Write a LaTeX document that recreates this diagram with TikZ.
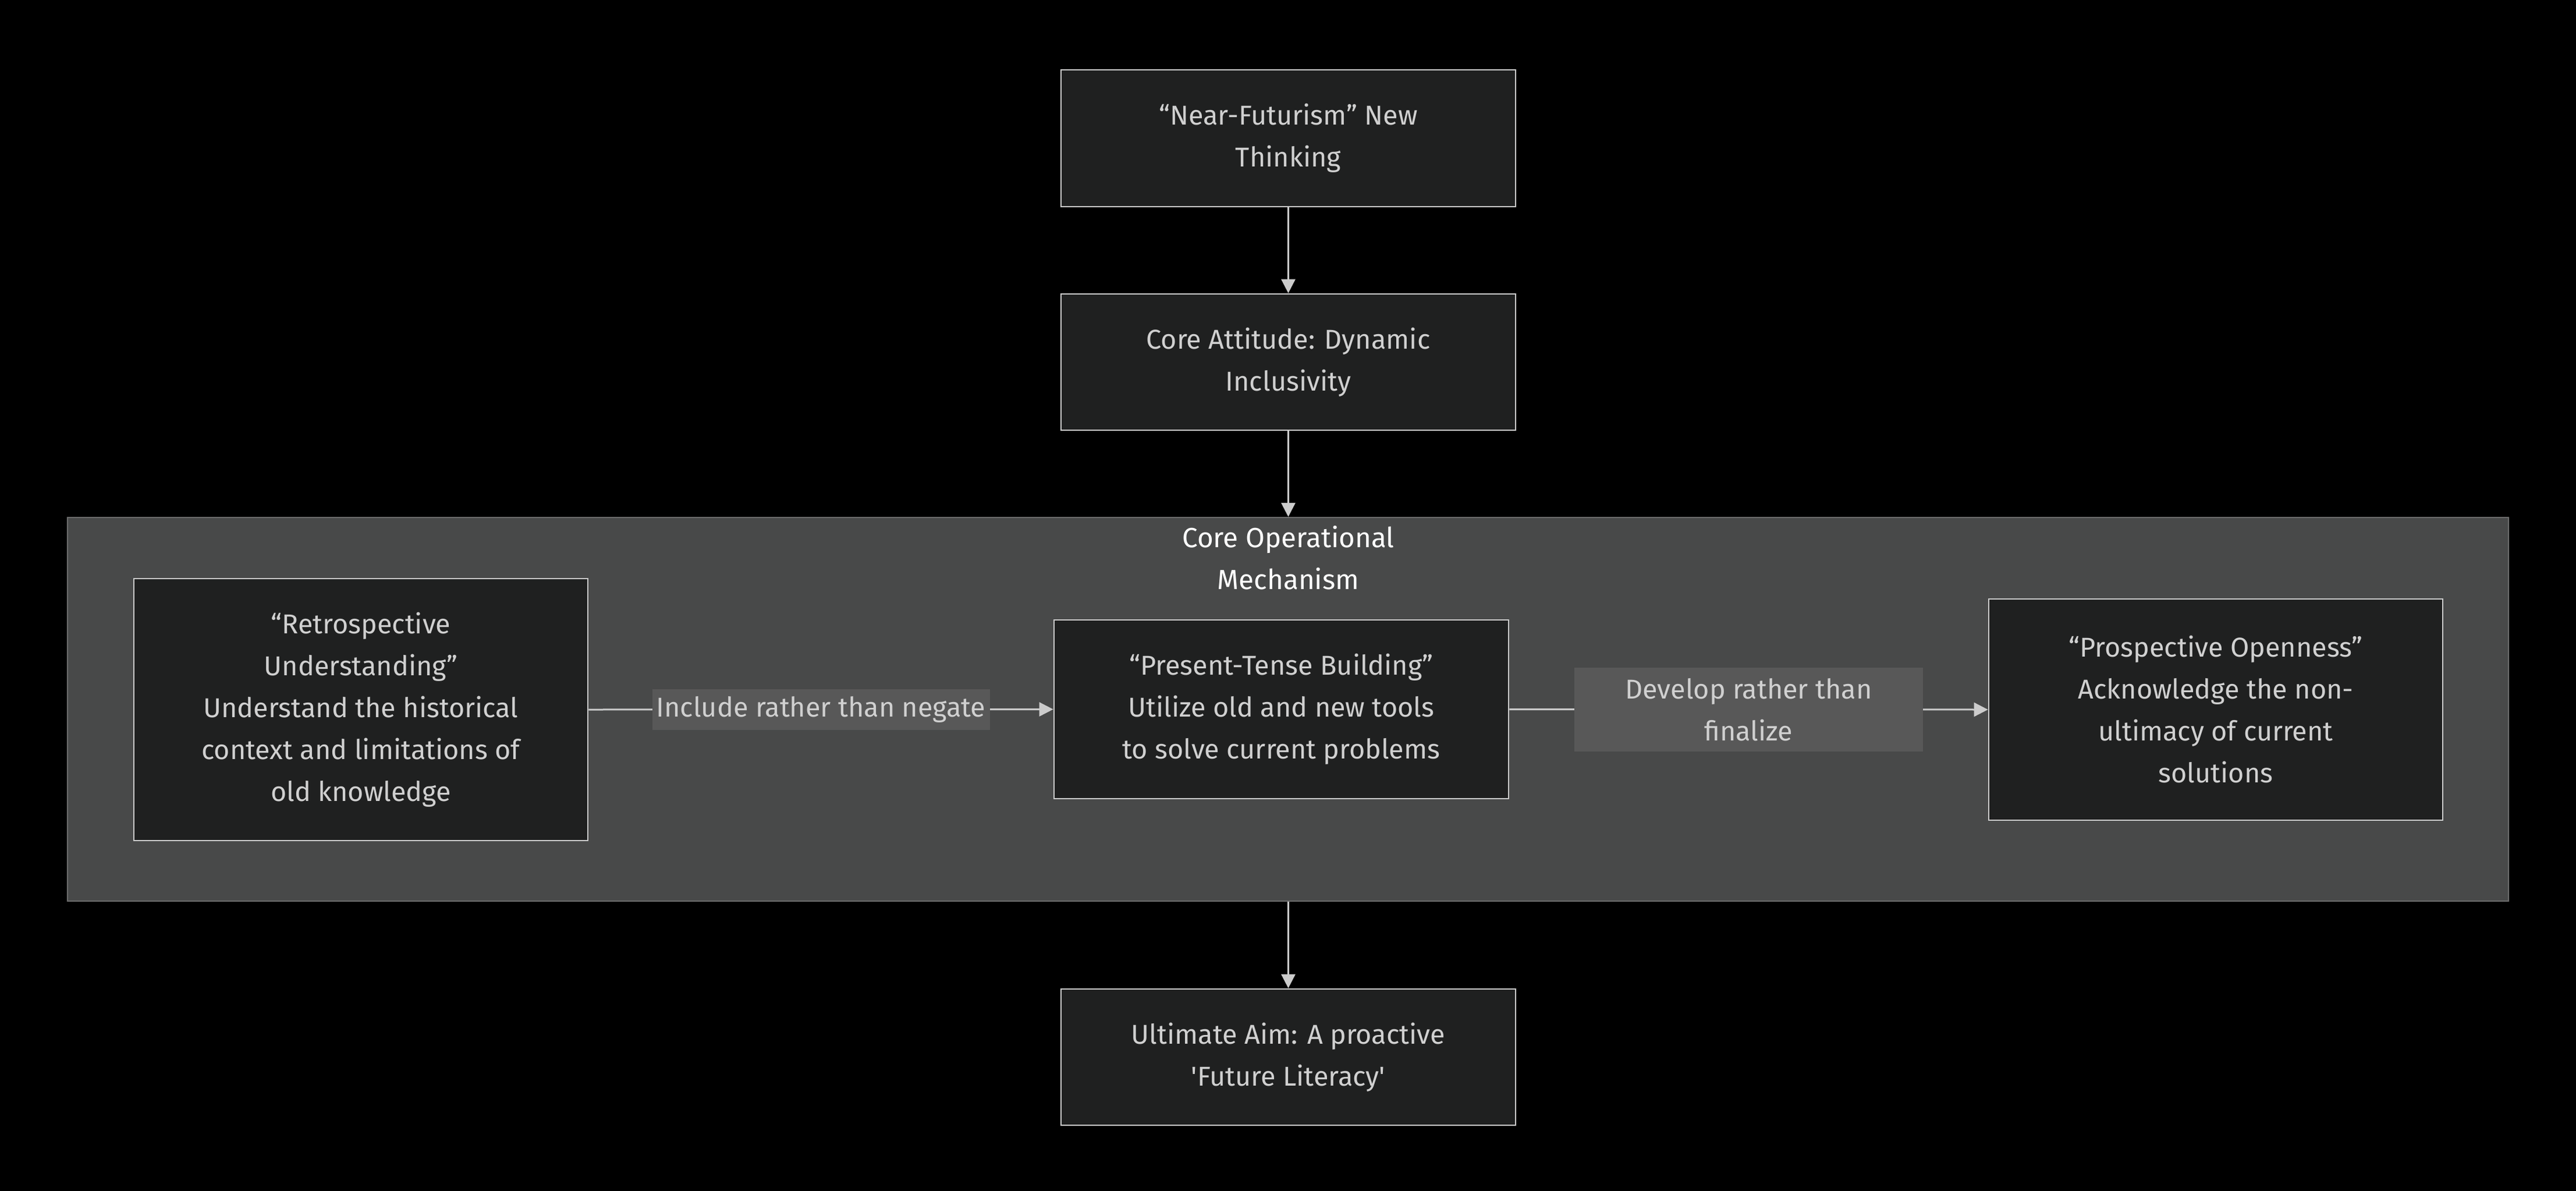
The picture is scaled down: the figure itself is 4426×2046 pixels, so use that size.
\documentclass[tikz,border=0pt]{standalone}
\usepackage{fontspec}
\newfontfamily\mf{Fira Sans}
\usetikzlibrary{arrows.meta}
\definecolor{nodefill}{HTML}{1F2020}
\definecolor{nodeline}{HTML}{CCCCCC}
\definecolor{txt}{HTML}{D0D0D0}
\definecolor{clfill}{HTML}{484949}
\definecolor{clline}{HTML}{6E6E6E}
\definecolor{lblbg}{HTML}{585858}
\tikzset{
  box/.style={draw=nodeline, fill=nodefill, line width=0.7pt, text=txt,
    font=\mf\fontsize{11.7}{18}\selectfont, align=center, inner sep=0pt},
  cluster/.style={draw=clline, fill=clfill, line width=0.6pt, inner sep=0pt},
  cltitle/.style={text=white, font=\mf\fontsize{11.9}{18}\selectfont, align=center, inner sep=0pt},
  lbl/.style={fill=lblbg, text=txt, font=\mf\fontsize{11.7}{18}\selectfont, align=center, inner sep=0pt},
  edge/.style={draw=nodeline, line width=0.75pt, -{Triangle[length=6pt,width=6pt]}}
}
\begin{document}
\begin{tikzpicture}[x=0.25pt,y=-0.25pt]
\useasboundingbox (0,0) rectangle (4426,2046);
\fill[black] (0,0) rectangle (4426,2046);
% cluster
\node[cluster, minimum width=1048.5pt, minimum height=164.75pt] (C) at (2213,1218.5) {};
\node[cltitle] (CT) at (2213.5,958.5) {Core Operational\\Mechanism};
% main nodes
\node[box, minimum width=195.25pt, minimum height=58.75pt] (A) at (2213.5,237.5) {“Near-Futurism” New\\Thinking};
\node[box, minimum width=195.25pt, minimum height=58.5pt] (B) at (2213.5,622) {Core Attitude: Dynamic\\Inclusivity};
\node[box, minimum width=195pt, minimum height=112.5pt] (R) at (620,1219) {“Retrospective\\Understanding”\\Understand the historical\\context and limitations of\\old knowledge};
\node[box, minimum width=195.25pt, minimum height=76.75pt] (P) at (2201.5,1218.5) {“Present-Tense Building”\\Utilize old and new tools\\to solve current problems};
\node[box, minimum width=195pt, minimum height=95pt] (O) at (3807,1219) {“Prospective Openness”\\Acknowledge the non-\\ultimacy of current\\solutions};
\node[box, minimum width=195.25pt, minimum height=58.5pt] (D) at (2213.5,1816) {Ultimate Aim: A proactive\\'Future Literacy'};
% edges
\draw[edge] (A) -- (B);
\draw[edge] (B.south) -- (B.south |- C.north);
\draw[edge] (C.south -| D.north) -- (D.north);
\draw[edge] (R.east) -- node[lbl, minimum width=145pt, minimum height=17.5pt] (L1) {Include rather than negate} (P.west);
\draw[edge] (P.east) -- node[lbl, minimum width=149.75pt, minimum height=36pt] (L2) {Develop rather than\\finalize} (O.west);
\end{tikzpicture}
\end{document}
